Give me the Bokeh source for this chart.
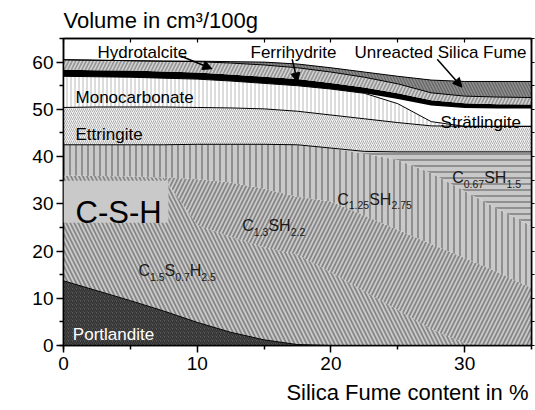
import numpy as np
from bokeh.plotting import figure
from bokeh.models import (Range1d, FixedTicker, LinearAxis, Label,
                          Title, Arrow, NormalHead, BoxAnnotation)
from bokeh.embed import file_html
from bokeh.resources import INLINE

# ---------------- data (volume in cm3/100 g, stacked) ----------------
silica_fume = [0, 2.5, 5, 7.5, 10, 12.5, 15, 17.5, 20, 22.5, 25, 27.5, 30, 32.5, 35]

portlandite   = [13.7, 11.6, 9.5, 7.3, 4.9, 2.8, 1.2, 0.2, 0, 0, 0, 0, 0, 0, 0]
csh_c15       = [22.3, 24.3, 26.3, 28.2, 20.6, 20.2, 19.6, 19.0, 15.5, 11.5, 7.5, 3.5, 0.5, 0, 0]
csh_c13       = [0, 0, 0, 0.1, 9.7, 11.5, 12.4, 12.3, 15.0, 16.0, 17.0, 18.0, 18.0, 15.5, 12.2]
csh_c125      = [6.5, 6.6, 6.7, 6.9, 7.4, 8.1, 9.4, 11.0, 11.3, 13.1, 14.8, 15.0, 14.2, 13.4, 13.1]
csh_c067      = [0, 0, 0, 0, 0, 0, 0, 0, 0, 0.5, 1.7, 4.5, 8.3, 12.1, 15.7]
ettringite    = [7.9, 8.0, 8.0, 8.0, 7.8, 7.7, 7.5, 7.1, 7.0, 6.9, 6.2, 5.5, 5.4, 5.4, 5.4]
monocarbonate = [6.6, 6.4, 6.3, 6.1, 6.0, 5.7, 5.4, 5.4, 5.5, 5.4, 4.0, 0.9, 0, 0, 0]
stratlingite  = [0, 0, 0, 0, 0, 0, 0, 0, 0, 0, 1.0, 3.4, 3.9, 3.8, 3.8]
ferrihydrite  = [1.4, 1.4, 1.4, 1.4, 1.4, 1.4, 1.4, 1.4, 1.3, 1.2, 1.2, 1.1, 1.0, 0.9, 0.8]
hydrotalcite  = [2.1, 2.1, 2.1, 2.2, 2.3, 2.4, 2.5, 2.4, 2.3, 2.2, 2.0, 1.6, 1.5, 1.5, 1.5]
unreacted_sf  = [0, 0, 0, 0, 0.1, 0.3, 0.6, 0.8, 0.9, 1.1, 1.6, 2.7, 3.1, 3.3, 3.4]

x_ticks = [0, 10, 20, 30]
y_ticks = [0, 10, 20, 30, 40, 50, 60]

# label anchors (data coordinates)
phase_labels = [  # text, x, y, align, colour
    ("Hydrotalcite", 5.9, 62.0, "center", "black"),
    ("Ferrihydrite", 17.2, 62.0, "center", "black"),
    ("Unreacted Silica Fume", 28.2, 62.0, "center", "black"),
    ("Monocarbonate", 0.9, 52.5, "left", "black"),
    ("Ettringite", 0.9, 44.7, "left", "black"),
    ("Strätlingite", 28.2, 47.2, "left", "black"),
    ("Portlandite", 0.7, 2.3, "left", "white"),
]
arrows = [  # x_start, y_start, x_end, y_end
    (8.75, 61.3, 11.1, 58.6),
    (17.1, 60.6, 17.5, 55.8),
    (27.95, 60.6, 29.8, 54.7),
]
chem_labels = [  # parts (text, is_subscript), x, baseline y
    ([("C", 0), ("1.5", 1), ("S", 0), ("0.7", 1), ("H", 0), ("2.5", 1)], 5.6, 15.85),
    ([("C", 0), ("1.3", 1), ("SH", 0), ("2.2", 1)], 13.37, 25.35),
    ([("C", 0), ("1.25", 1), ("SH", 0), ("2.75", 1)], 20.47, 31.0),
    ([("C", 0), ("0.67", 1), ("SH", 0), ("1.5", 1)], 29.07, 35.56),
]
csh_box = dict(left=0, right=7.85, bottom=26.0, top=34.86)

# ---------------- figure ----------------
FONT = "Liberation Sans"
p = figure(width=535, height=410, output_backend="svg", toolbar_location=None,
           x_range=Range1d(0, 35), y_range=Range1d(0, 65),
           min_border_left=63, min_border_right=4, min_border_top=37, min_border_bottom=65)
p.background_fill_color = "white"
p.border_fill_color = "white"
p.grid.visible = False
p.outline_line_color = "black"
p.outline_line_width = 1.5

xs = np.array(silica_fume, dtype=float)
layers = [
    (portlandite,   dict(fill_color="#585858", hatch_pattern="/", hatch_color="#303030", hatch_scale=4, hatch_weight=1.3)),
    (csh_c15,       dict(fill_color="#c9c9c9", hatch_pattern="\\", hatch_color="#858585", hatch_scale=8, hatch_weight=1.7)),
    (csh_c13,       dict(fill_color="#c9c9c9", hatch_pattern="/", hatch_color="#858585", hatch_scale=8, hatch_weight=1.7)),
    (csh_c125,      dict(fill_color="#c9c9c9", hatch_pattern="|", hatch_color="#858585", hatch_scale=6, hatch_weight=1.7)),
    (csh_c067,      dict(fill_color="#c9c9c9", hatch_pattern="-", hatch_color="#858585", hatch_scale=6, hatch_weight=1.7)),
    (ettringite,    dict(fill_color="#f2f2f2", hatch_pattern="/", hatch_color="#b0b0b0", hatch_scale=4, hatch_weight=1.0)),
    (monocarbonate, dict(fill_color="white", hatch_pattern="|", hatch_color="#bababa", hatch_scale=4, hatch_weight=1.0)),
    (stratlingite,  dict(fill_color="white")),
    (ferrihydrite,  dict(fill_color="black")),
    (hydrotalcite,  dict(fill_color="#969696", hatch_pattern="/", hatch_color="#d4d4d4", hatch_scale=7, hatch_weight=1.5)),
    (unreacted_sf,  dict(fill_color="#646464", hatch_pattern="\\", hatch_color="#8e8e8e", hatch_scale=6, hatch_weight=1.5)),
]
bottom = np.zeros_like(xs)
tops = []
for vals, style in layers:
    top = bottom + np.array(vals, dtype=float)
    p.varea(x=xs, y1=bottom, y2=top, **style)
    tops.append(top)
    bottom = top

# boundary lines
for idx in [0, 4, 5, 6, 9, 10]:
    p.line(xs, tops[idx], line_color="black", line_width=1)

# C-S-H box and label
p.add_layout(BoxAnnotation(fill_color="#c9c9c9", fill_alpha=1, line_alpha=0, **csh_box))
p.add_layout(Label(x=0.9, y=28.2, text="C-S-H", text_font=FONT, text_font_size="31px",
                   text_baseline="alphabetic", text_color="black"))

for txt, lx, ly, al, col in phase_labels:
    p.add_layout(Label(x=lx, y=ly, text=txt, text_font=FONT, text_font_size="17px",
                       text_align=al, text_baseline="alphabetic", text_color=col))

for xs0, ys0, xe, ye in arrows:
    p.add_layout(Arrow(end=NormalHead(size=9, fill_color="black", line_color="black"),
                       x_start=xs0, y_start=ys0, x_end=xe, y_end=ye,
                       line_color="black", line_width=1.5))

ADV = {"C": 0.722, "S": 0.667, "H": 0.722, ".": 0.278}
ADV.update({d: 0.556 for d in "0123456789"})
MAIN_FS, SUB_FS = 16, 10.5
for parts, cx, cy in chem_labels:
    off = 0.0
    for txt, sub in parts:
        fs = SUB_FS if sub else MAIN_FS
        p.add_layout(Label(x=cx, y=cy, x_offset=off, y_offset=-6 if sub else 0, text=txt,
                           text_font=FONT, text_font_size=f"{fs}px", text_baseline="alphabetic",
                           text_color="#1a1a1a"))
        off += sum(ADV[c] for c in txt) * fs

# axes
for ax, ticks in ((p.xaxis[0], x_ticks), (p.yaxis[0], y_ticks)):
    ax.ticker = FixedTicker(ticks=ticks, minor_ticks=[t + 5 for t in ticks] + [0])
    ax.axis_line_width = 1.5
    ax.major_tick_line_width = 1.5
    ax.minor_tick_line_width = 1.5
    ax.major_tick_out = 7
    ax.major_tick_in = 0
    ax.minor_tick_out = 4
    ax.minor_tick_in = 0
    ax.major_label_text_font = FONT
    ax.major_label_text_font_size = "19px"
    ax.major_label_text_color = "black"
p.xaxis.major_label_standoff = 4
p.yaxis.major_label_standoff = 3

top_ax = LinearAxis(ticker=FixedTicker(ticks=[], minor_ticks=list(range(0, 36, 5))),
                    minor_tick_in=4, minor_tick_out=0, minor_tick_line_width=1.2,
                    axis_line_color="black", axis_line_width=1.5)
right_ax = LinearAxis(ticker=FixedTicker(ticks=[], minor_ticks=list(range(0, 66, 5))),
                      minor_tick_in=0, minor_tick_out=3, minor_tick_line_width=1.2,
                      axis_line_color="black", axis_line_width=1.5)
p.add_layout(top_ax, "above")
p.add_layout(right_ax, "right")

p.title.text = "Volume in cm³/100g"
p.title.text_font = FONT
p.title.text_font_size = "22px"
p.title.text_font_style = "normal"
p.title.text_color = "black"
p.title.align = "left"
p.title.standoff = 11

xlab = Title(text="Silica Fume content in %", align="right", text_font=FONT,
             text_font_size="22px", text_font_style="normal", text_color="black", offset=3)
p.add_layout(xlab, "below")

open("out.html", "w").write(file_html(p, INLINE))
